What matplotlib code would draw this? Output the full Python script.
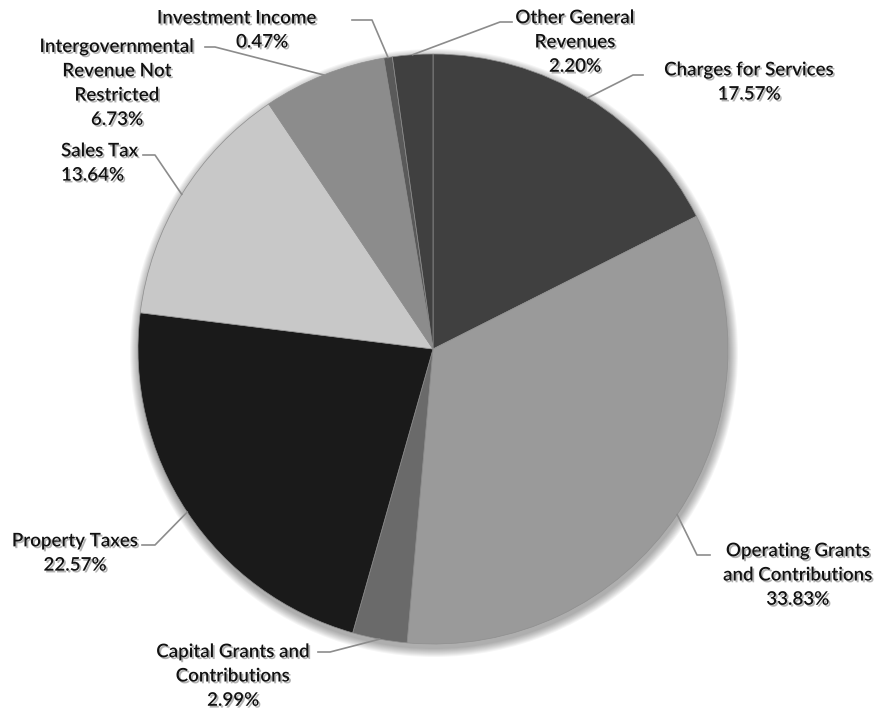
import matplotlib
matplotlib.use('Agg')
import matplotlib.pyplot as plt
import matplotlib.patheffects as pe
from matplotlib.patches import Circle
import numpy as np

labels = ['Charges for Services', 'Operating Grants\nand Contributions',
          'Capital Grants and\nContributions', 'Property Taxes', 'Sales Tax',
          'Intergovernmental\nRevenue Not\nRestricted', 'Investment Income',
          'Other General\nRevenues']
shares = [17.57, 33.83, 2.99, 22.57, 13.64, 6.73, 0.47, 2.20]
pct_text = ['17.57%', '33.83%', '2.99%', '22.57%', '13.64%', '6.73%', '0.47%', '2.20%']
colors = ['#404040', '#9a9a9a', '#6a6a6a', '#1a1a1a', '#c8c8c8', '#8c8c8c',
          '#5a5a5a', '#404040']

W, H = 882, 715
cx, cy, R = 433, H - 349, 295
FS = 13.5

fig = plt.figure(figsize=(W / 100, H / 100), dpi=100)
ax = fig.add_axes([0, 0, 1, 1])

# soft shadow round the pie
for k in range(9, 0, -1):
    ax.add_patch(Circle((cx + 1, cy - 4), R + k, color='#000000', alpha=0.04,
                        lw=0, zorder=0))

wedges, _ = ax.pie(shares, colors=colors, startangle=90, counterclock=False,
                   center=(cx, cy), radius=R,
                   wedgeprops=dict(edgecolor='#8f8f8f', linewidth=0.5))
for w in wedges:
    w.set_zorder(1)

ax.set_xlim(0, W)
ax.set_ylim(0, H)
ax.set_aspect('equal')
ax.axis('off')

# label layout: (text x, text y, elbow x, end x, alignment) in pixels from the top
layout = [
    (749, 82, 633, 643, 'center'),
    (798, 575, 697, 710, 'center'),
    (233, 676, 330, 318, 'center'),
    (75, 553, 155, 142, 'center'),
    (61, 163, 155, 143, 'left'),
    (117, 83, 215, 205, 'center'),
    (237, 30, 372, 352, 'center'),
    (575, 42, 500, 512, 'center'),
]
line_y = [75, 555, 652, 545, 155, 47, 20, 22]

shadow = [pe.withSimplePatchShadow(offset=(1.3, -1.3), shadow_rgbFace='#555555',
                                   alpha=0.45)]
tstyle = dict(fontsize=FS, family='Lato', weight='semibold', color='#111111',
              path_effects=shadow, zorder=3)
theta = 90.0
for i, s in enumerate(shares):
    mid = np.deg2rad(theta - s * 3.6 / 2)
    theta -= s * 3.6
    ax_x = cx + R * np.cos(mid)
    ax_y = cy + R * np.sin(mid)
    tx, ty, ex, endx, ha = layout[i]
    ly = H - line_y[i]
    ax.plot([ax_x, ex, endx], [ax_y, ly, ly], color='#8c8c8c', lw=1.2, zorder=2)
    txt = labels[i] + '\n' + pct_text[i]
    if i == 6:
        ax.text(tx, H - 18, labels[i], ha='center', va='center', **tstyle)
        ax.text(262, H - 42, pct_text[i], ha='center', va='center', **tstyle)
        continue
    ax.text(tx, H - ty, txt, ha=ha, va='center', multialignment=ha,
            linespacing=1.52, **tstyle)

fig.savefig('out.png', dpi=100)
